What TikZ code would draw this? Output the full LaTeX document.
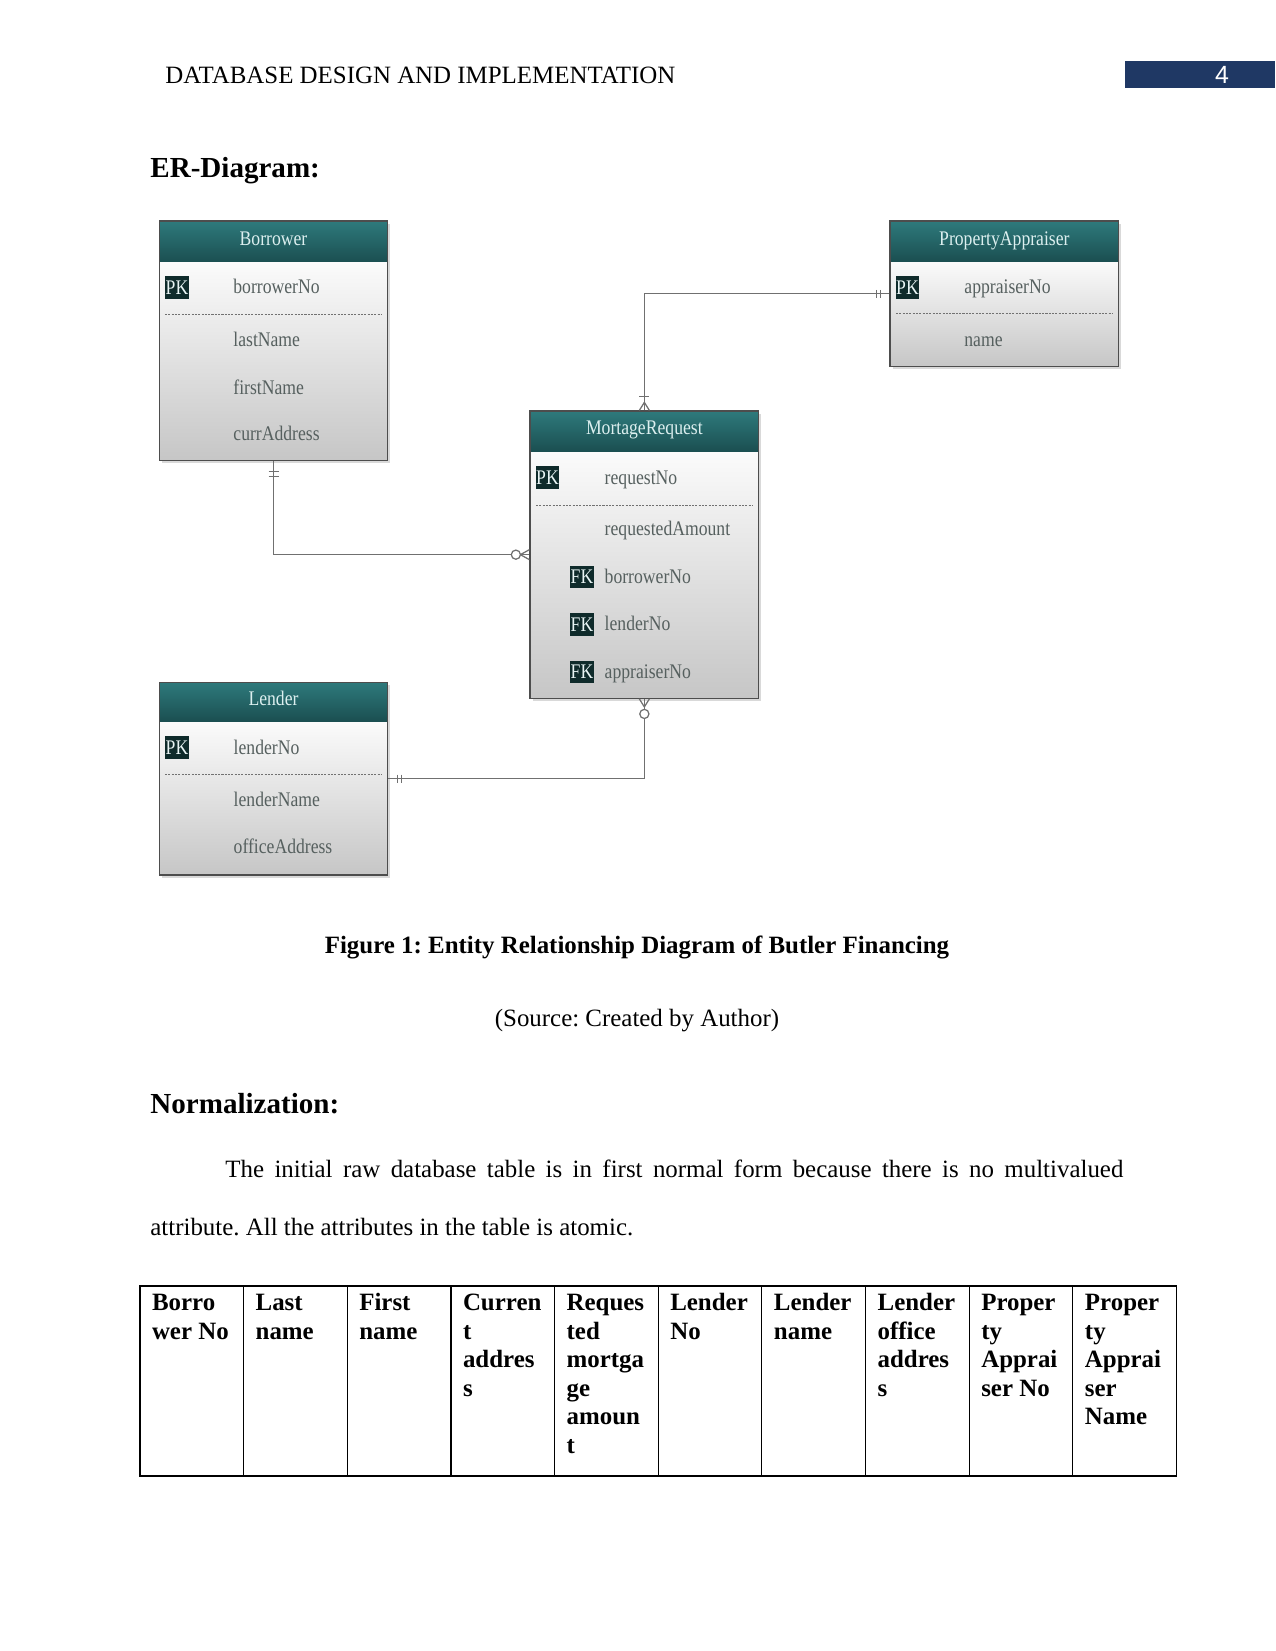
\documentclass[tikz,border=0pt]{standalone}
\usepackage{fontspec}
\setmainfont{Liberation Serif}
\newfontfamily\erfont[FakeStretch=0.85]{Liberation Serif}
\newfontfamily\numfont{Liberation Sans}
\usetikzlibrary{calc,fit}
\frenchspacing
\definecolor{headtop}{HTML}{2E7A7C}
\definecolor{headbot}{HTML}{1B4F51}
\definecolor{titletext}{HTML}{DCEFEF}
\definecolor{attrtext}{HTML}{56605F}
\definecolor{bodytop}{HTML}{FBFBFB}
\definecolor{bodybot}{HTML}{C6C6C6}
\definecolor{keyfill}{HTML}{0F2B2B}
\definecolor{keytext}{HTML}{E8F4F4}
\definecolor{bordgray}{HTML}{4D4D4D}
\definecolor{conngray}{HTML}{707070}
\definecolor{navy}{HTML}{1F3864}

\newcommand\erEntity[8]{%
  \fill[black, opacity=0.15] (#2+2.5,#3+2.5) rectangle (#4+2.5,#5+2.5);
  \shade[top color=bodytop, bottom color=bodybot] (#2,#6) rectangle (#4,#5);
  \shade[top color=headtop, bottom color=headbot] (#2,#3) rectangle (#4,#6);
  \node[fit={(#2,#3) (#4,#5)}, inner sep=0pt, ebord] (#1) {};
  \node[etitle] (#1-t) at ({(#2+#4)/2},#8) {#7};
}
\newcommand\tcell[2]{%
  \foreach \t [count=\i] in {#2} {\node[cellt] (c#1-\i) at ({140+#1*103.66+11.6},{1310.5+(\i-1)*28.6}) {\t};}
}

\begin{document}
\begin{tikzpicture}[x=0.48bp, y=-0.48bp,
  conn/.style={draw=conngray, line width=0.6pt},
  ebord/.style={draw=bordgray, line width=0.6pt},
  sepline/.style={draw=bordgray!80, line width=0.35pt, dash pattern=on 1pt off 0.6pt},
  etitle/.style={font=\erfont\fontsize{10}{12}\selectfont, text=titletext, inner sep=0pt, anchor=base},
  eattr/.style={font=\erfont\fontsize{10}{12}\selectfont, text=attrtext, inner sep=0pt, anchor=mid west, yshift=-1bp},
  keybox/.style={fill=keyfill, text=keytext, font=\erfont\fontsize{10}{12}\selectfont, inner sep=0pt, minimum width=11.5bp, minimum height=11bp},
  doc/.style={font=\fontsize{12}{14}\selectfont, inner sep=0pt, anchor=base west},
  dochead/.style={font=\bfseries\fontsize{14}{16}\selectfont, inner sep=0pt, anchor=base west},
  cellt/.style={font=\bfseries\fontsize{12}{13.8}\selectfont, inner sep=0pt, anchor=base west},
  tline/.style={draw=black, line width=0.5pt}
]
\fill[white] (0,0) rectangle (1275,1651);
\useasboundingbox (0,0) rectangle (1275,1651);

% page header
\node[doc] (hdr) at (165,83) {DATABASE DESIGN AND IMPLEMENTATION};
\fill[navy] (1125,61) rectangle (1275,88);
\node[font=\numfont\fontsize{12}{14}\selectfont, text=white, inner sep=0pt] (pgnum) at (1222,75) {4};

\node[dochead] (erh) at (150,177) {ER-Diagram:};

% entities
\erEntity{borrower}{159.3}{221}{387.7}{460.7}{261.7}{Borrower}{245}
\erEntity{pa}{890}{221}{1118.7}{366.7}{261}{PropertyAppraiser}{245}
\erEntity{mr}{530}{411}{758.7}{698.3}{451}{MortageRequest}{434.5}
\erEntity{lender}{159.3}{682.3}{387.7}{875}{721}{Lender}{705}

% Borrower attributes
\node[keybox] (b-k1) at (177,287.5) {PK};
\node[eattr] (b-a1) at (233,287) {borrowerNo};
\draw[sepline] (165,314) -- (382,314);
\node[eattr] (b-a2) at (233,340) {lastName};
\node[eattr] (b-a3) at (233,387.7) {firstName};
\node[eattr] (b-a4) at (233,434) {currAddress};

% PropertyAppraiser attributes
\node[keybox] (p-k1) at (907.5,287.5) {PK};
\node[eattr] (p-a1) at (964,287) {appraiserNo};
\draw[sepline] (896,313.7) -- (1113,313.7);
\node[eattr] (p-a2) at (964,339.3) {name};

% MortageRequest attributes
\node[keybox] (m-k1) at (547.5,477.5) {PK};
\node[eattr] (m-a1) at (604.3,477.3) {requestNo};
\draw[sepline] (536,505) -- (753,505);
\node[eattr] (m-a2) at (604.3,529) {requestedAmount};
\node[keybox] (m-k2) at (582,577) {FK};
\node[eattr] (m-a3) at (604.3,576.7) {borrowerNo};
\node[keybox] (m-k3) at (582,624.3) {FK};
\node[eattr] (m-a4) at (604.3,624) {lenderNo};
\node[keybox] (m-k4) at (582,672) {FK};
\node[eattr] (m-a5) at (604.3,671.7) {appraiserNo};

% Lender attributes
\node[keybox] (l-k1) at (177,747.5) {PK};
\node[eattr] (l-a1) at (233.3,747.3) {lenderNo};
\draw[sepline] (165,774.3) -- (382,774.3);
\node[eattr] (l-a2) at (233.3,800) {lenderName};
\node[eattr] (l-a3) at (233.3,846.7) {officeAddress};

% connector Borrower -- MortageRequest
\draw[conn] (borrower.south) |- (mr.west);
\draw[conn] ($(borrower.south)+(-5,10)$) -- ++(10,0);
\draw[conn] ($(borrower.south)+(-5,15)$) -- ++(10,0);
\draw[conn] ($(mr.west)+(-9,0)$) -- ($(mr.west)+(0,-5)$);
\draw[conn] ($(mr.west)+(-9,0)$) -- ($(mr.west)+(0,5)$);
\draw[conn, fill=white] ($(mr.west)+(-13.5,0)$) circle[radius=2.2bp];

% connector MortageRequest -- PropertyAppraiser
\draw[conn] (mr.north) |- (pa.west);
\draw[conn] ($(mr.north)+(-5,-14)$) -- ++(10,0);
\draw[conn] ($(mr.north)+(0,-8)$) -- ($(mr.north)+(-5,0)$);
\draw[conn] ($(mr.north)+(0,-8)$) -- ($(mr.north)+(5,0)$);
\draw[conn] ($(pa.west)+(-13,-4)$) -- ++(0,8);
\draw[conn] ($(pa.west)+(-9,-4)$) -- ++(0,8);

% connector Lender -- MortageRequest
\draw[conn] (lender.east) -| (mr.south);
\draw[conn] ($(lender.east)+(9,-4)$) -- ++(0,8);
\draw[conn] ($(lender.east)+(13,-4)$) -- ++(0,8);
\draw[conn] ($(mr.south)+(0,8)$) -- ($(mr.south)+(-5,0)$);
\draw[conn] ($(mr.south)+(0,8)$) -- ($(mr.south)+(5,0)$);
\draw[conn, fill=white] ($(mr.south)+(0,15)$) circle[radius=2.2bp];

% captions and text
\node[font=\bfseries\fontsize{12}{14}\selectfont, inner sep=0pt, anchor=base] (cap) at (637,953) {Figure 1: Entity Relationship Diagram of Butler Financing};
\node[font=\fontsize{12}{14}\selectfont, inner sep=0pt, anchor=base] (src) at (637,1026) {(Source: Created by Author)};
\node[dochead] (normh) at (150,1113) {Normalization:};
\node[doc] (par1) at (225,1177) {\makebox[431bp][s]{The initial raw database table is in first normal form because there is no multivalued}};
\node[doc] (par2) at (150,1235) {attribute. All the attributes in the table is atomic.};

% table
\draw[line width=0.7pt] (140,1286) rectangle (1176.6,1476);
\foreach \k in {1,...,9} {\draw[tline] ({140+\k*103.66},1286) -- ({140+\k*103.66},1476);}
\tcell{0}{Borro,wer No}
\tcell{1}{Last,name}
\tcell{2}{First,name}
\tcell{3}{Curren,t,addres,s}
\tcell{4}{Reques,ted,mortga,ge,amoun,t}
\tcell{5}{Lender,No}
\tcell{6}{Lender,name}
\tcell{7}{Lender,office,addres,s}
\tcell{8}{Proper,ty,Apprai,ser No}
\tcell{9}{Proper,ty,Apprai,ser,Name}
\end{tikzpicture}
\end{document}
